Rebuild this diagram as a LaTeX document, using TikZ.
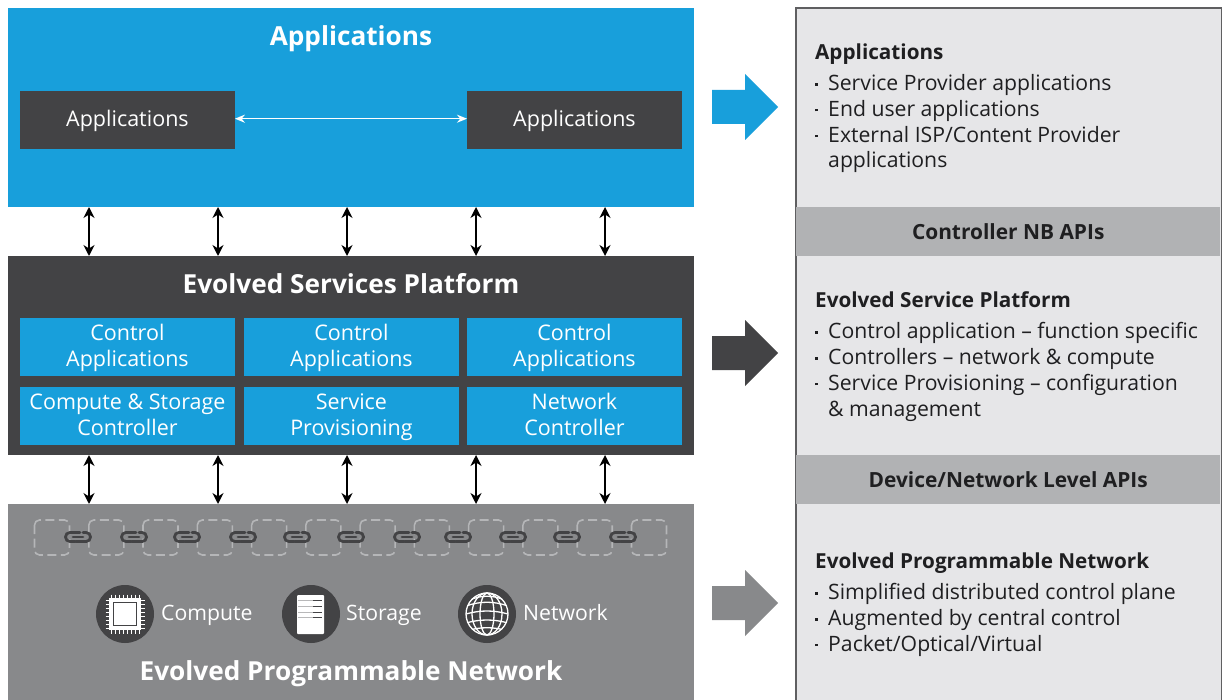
\documentclass[tikz,border=0pt]{standalone}
\usepackage{fontspec}
\setmainfont{Open Sans}
\usetikzlibrary{arrows.meta,calc}
\definecolor{ciscoblue}{HTML}{189FDB}
\definecolor{darkbar}{HTML}{434345}
\definecolor{midgray}{HTML}{88898B}
\definecolor{paneltxt}{HTML}{1F1F21}
\definecolor{panelbg}{HTML}{E6E6E8}
\definecolor{bandbg}{HTML}{B1B2B4}
\definecolor{dashgray}{HTML}{B5B6B8}
\tikzset{
 layer/.style={rectangle,inner sep=0,minimum width=686pt,anchor=north west},
 inbox/.style={rectangle,inner sep=0,minimum width=214.5pt,minimum height=58pt,anchor=north west,text=white,align=center,font=\fontsize{21.5}{25.5}\selectfont},
 title/.style={text=white,anchor=base,font=\fontsize{26.2}{30}\selectfont\bfseries,inner sep=0},
 dbl/.style={{Stealth[length=11pt,width=11pt]}-{Stealth[length=11pt,width=11pt]},line width=2pt,black},
 whitedbl/.style={{Stealth[length=10pt,width=8pt]}-{Stealth[length=10pt,width=8pt]},line width=1.5pt,white},
 band/.style={rectangle,fill=bandbg,inner sep=0,minimum width=424pt,minimum height=49pt,anchor=north west,font=\fontsize{20.9}{24}\selectfont\bfseries,text=paneltxt},
 info/.style={anchor=north west,inner sep=0,align=left,text=paneltxt,font=\fontsize{21.2}{25.7}\selectfont},
 infohead/.style={anchor=base west,inner sep=0,text=paneltxt,font=\fontsize{20.7}{25.7}\selectfont\bfseries},
 ilabel/.style={text=white,inner sep=0,anchor=base west,font=\fontsize{21.2}{24}\selectfont},
 cubby/.style={draw=dashgray,line width=1.6pt,rounded corners=5pt,dash pattern=on 9pt off 4.5pt},
 linkpart/.style={draw=darkbar,line width=2.8pt,line cap=round,rounded corners=4.4pt},
 icircle/.style={circle,fill=darkbar,minimum size=58pt,inner sep=0}
}
\newcommand{\bigarrow}[2]{\fill[#1] (712,#2-17) -- (745,#2-17) -- (745,#2-33) -- (778,#2) -- (745,#2+33) -- (745,#2+17) -- (712,#2+17) -- cycle;}
\newcommand{\cubbyat}[1]{\draw[cubby] (#1,520) rectangle ++(35,35);}
\newcommand{\linkat}[1]{%
 \draw[linkpart] (#1+2,532.5) -- (#1-12.5,532.5) -- (#1-12.5,541.5) -- (#1-2.5,541.5);
 \draw[linkpart] (#1-2,541.5) -- (#1+12.5,541.5) -- (#1+12.5,532.5) -- (#1+5,532.5);
 \draw[linkpart] (#1-5,537) -- (#1+5,537);}
\newcommand{\bul}{\makebox[13pt][l]{\rule[0.24em]{2.6pt}{2.6pt}}}
\newcommand{\nobul}{\makebox[13pt][l]{}}
\newcommand{\upstrut}{\rule{0pt}{20pt}}
\begin{document}
\begin{tikzpicture}[x=1pt,y=-1pt]
\useasboundingbox (0,0) rectangle (1222,700);
\fill[white] (0,0) rectangle (1222,700);
% left layers
\node[layer,fill=ciscoblue,minimum height=199pt] (apps) at (8,8) {};
\node[layer,fill=darkbar,minimum height=199pt] (esp) at (8,256) {};
\node[layer,fill=midgray,minimum height=196pt] (epn) at (8,504) {};
\node[title] (appst) at (351,46) {Applications};
\node[title] (espt) at (351,294) {Evolved Services Platform};
\node[title] (epnt) at (351,680) {Evolved Programmable Network};
% application boxes
\node[inbox,fill=darkbar] (a1) at (20,91) {\rule{0pt}{18pt}Applications};
\node[inbox,fill=darkbar] (a2) at (467,91) {\rule{0pt}{18pt}Applications};
\draw[whitedbl] ([yshift=1.5pt]a1.east) -- ([yshift=1.5pt]a2.west);
% ESP boxes
\node[inbox,fill=ciscoblue] (c1) at (20,318) {\upstrut Control\\\strut Applications};
\node[inbox,fill=ciscoblue] (c2) at (244,318) {\upstrut Control\\\strut Applications};
\node[inbox,fill=ciscoblue] (c3) at (467,318) {\upstrut Control\\\strut Applications};
\node[inbox,fill=ciscoblue] (s1) at (20,387) {\upstrut Compute \& Storage\\\strut Controller};
\node[inbox,fill=ciscoblue] (s2) at (244,387) {\upstrut Service\\\strut Provisioning};
\node[inbox,fill=ciscoblue] (s3) at (467,387) {\upstrut Network\\\strut Controller};
% double arrows
\foreach \i/\xx in {1/89,2/218,3/347,4/476,5/605}{
 \coordinate (ua\i) at (\xx,207);
 \coordinate (ub\i) at (\xx,256);
 \coordinate (la\i) at (\xx,455);
 \coordinate (lb\i) at (\xx,504);
 \draw[dbl] (ua\i) -- (ub\i);
 \draw[dbl] (la\i) -- (lb\i);
}
% chain
\foreach \xx in {34.5,88.8,143,197.3,251.6,305.8,360.1,414.4,468.6,522.9,577.2,631.5}{\cubbyat{\xx}}
\foreach \xx in {78,134,187,243,297,351,407,458,513,567,623}{\linkat{\xx}}
% compute icon
\node[icircle] (ic1) at (125,614) {};
\fill[white] (125-16,614-16) rectangle (125+16,614+16);
\draw[darkbar,line width=1.4pt] (125-11.5,614-11.5) rectangle (125+11.5,614+11.5);
\foreach \d in {-14,-10,-6,-2,2,6,10,14}{
 \draw[white,line width=1pt] (125+\d,614-19.5) -- (125+\d,614-16);
 \draw[white,line width=1pt] (125+\d,614+16) -- (125+\d,614+19.5);
 \draw[white,line width=1pt] (125-19.5,614+\d) -- (125-16,614+\d);
 \draw[white,line width=1pt] (125+16,614+\d) -- (125+19.5,614+\d);
}
\node[ilabel] (l1) at (161,620) {Compute};
% storage icon
\node[icircle] (ic2) at (311,614) {};
\fill[white,rounded corners=1pt] (297,595) rectangle (324,634);
\foreach \yy in {600,606,612,617}{\draw[darkbar,line width=.9pt] (313,\yy) -- (322,\yy);\draw[midgray!60,line width=.7pt] (298,\yy) -- (313,\yy);}
\node[ilabel] (l2) at (346,620) {Storage};
% network icon
\node[icircle] (ic3) at (487,614) {};
\begin{scope}[white,line width=1.3pt]
 \draw (487,614) circle[radius=21pt];
 \draw (487,614) ellipse[x radius=7pt,y radius=21pt];
 \draw (487,614) ellipse[x radius=15pt,y radius=21pt];
 \clip (487,614) circle[radius=21pt];
 \draw (466,606) .. controls (480,601) and (494,601) .. (508,606);
 \draw (466,614) .. controls (480,610) and (494,610) .. (508,614);
 \draw (466,623) .. controls (480,619) and (494,619) .. (508,623);
 \draw (470,600) .. controls (480,595) and (494,595) .. (504,600);
 \draw (470,630) .. controls (480,627) and (494,627) .. (504,630);
\end{scope}
\node[ilabel] (l3) at (523,620) {Network};
% big arrows
\bigarrow{ciscoblue}{107}
\bigarrow{darkbar}{353}
\bigarrow{midgray}{603}
% right panel
\node[rectangle,draw=darkbar!85,line width=2pt,fill=panelbg,inner sep=0,minimum width=426pt,minimum height=700pt,anchor=north west] (panel) at (795,7) {};
\node[band] (b1) at (796,207) {Controller NB APIs};
\node[band] (b2) at (796,455) {Device/Network Level APIs};
\node[infohead] (t1) at (815,60) {Applications};
\node[info] (t1b) at (815,74.5) {\bul Service Provider applications\\\bul End user applications\\\bul External ISP/Content Provider\\\nobul applications};
\node[infohead] (t2) at (815,307) {Evolved Service Platform};
\node[info] (t2b) at (815,322.5) {\bul Control application – function specific\\\bul Controllers – network \& compute\\\bul Service Provisioning – configuration\\\nobul \& management};
\node[infohead] (t3) at (815,568) {Evolved Programmable Network};
\node[info] (t3b) at (815,583.5) {\bul Simplified distributed control plane\\\bul Augmented by central control\\\bul Packet/Optical/Virtual};
\end{tikzpicture}
\end{document}
